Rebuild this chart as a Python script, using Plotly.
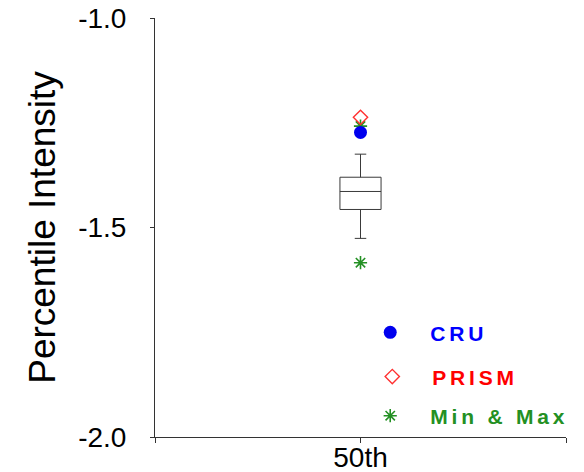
import plotly.graph_objects as go

# Data
category = ["50th"]
box_q1 = [-1.457]
box_median = [-1.414]
box_q3 = [-1.380]
box_lower = [-1.526]
box_upper = [-1.325]
cru_values = [-1.273]
prism_values = [-1.237]
minmax_values = [-1.258, -1.584]
y_ticks = [-2.0, -1.5, -1.0]
y_tick_labels = ["-2.0", "-1.5", "-1.0"]

xpos = [1]
LS = "letter-spacing:3.8px;"
LEG_FONT = dict(size=21, family="Liberation Sans, Arial, sans-serif")

fig = go.Figure()

fig.add_trace(go.Box(
    x=xpos, q1=box_q1, median=box_median, q3=box_q3,
    lowerfence=box_lower, upperfence=box_upper,
    width=0.2, whiskerwidth=0.28,
    fillcolor="white", line=dict(color="#3a3a3a", width=1),
    showlegend=False, hoverinfo="skip",
))

fig.add_trace(go.Scatter(
    x=xpos * len(minmax_values), y=minmax_values, mode="markers",
    name="<b><span style='color:#239023;" + LS + "'>Min &amp; Max</span></b>",
    marker=dict(symbol="asterisk-open", size=11, color="#239023",
                line=dict(color="#239023", width=1.6)),
    legend="legend3",
))
fig.add_trace(go.Scatter(
    x=xpos, y=prism_values, mode="markers",
    name="<b><span style='color:#ff0000;" + LS + "'>PRISM</span></b>",
    marker=dict(symbol="diamond-open", size=11, color="#ff3030",
                line=dict(color="#ff3030", width=1.4)),
    legend="legend2",
))
fig.add_trace(go.Scatter(
    x=xpos, y=cru_values, mode="markers",
    name="<b><span style='color:#0000ff;" + LS + "'>CRU</span></b>",
    marker=dict(symbol="circle", size=13, color="#0000ee"),
    legend="legend",
))

leg_common = dict(xanchor="left", yanchor="middle", bgcolor="rgba(0,0,0,0)",
                  font=LEG_FONT, itemwidth=70)

fig.update_layout(
    width=584, height=472,
    margin=dict(l=155, r=10, t=18, b=35),
    paper_bgcolor="white", plot_bgcolor="white",
    font=dict(family="Liberation Sans, Arial, sans-serif", color="black"),
    showlegend=True,
    legend=dict(x=0.475, y=0.249, **leg_common),
    legend2=dict(x=0.48, y=0.1435, **leg_common),
    legend3=dict(x=0.475, y=0.050, **leg_common),
    xaxis=dict(range=[0, 2], tickvals=[0, 1, 2], ticktext=["", category[0], ""],
               showline=True, linecolor="#333333", linewidth=1,
               ticks="outside", ticklen=5, tickcolor="#333333",
               ticklabelstandoff=-10, ticklabeloverflow="allow",
               showgrid=False, zeroline=False, tickfont=dict(size=28),
               automargin=False),
    yaxis=dict(range=[-2.0, -1.0], tickvals=y_ticks, ticktext=y_tick_labels,
               showline=True, linecolor="#333333", linewidth=1,
               ticks="outside", ticklen=4, tickcolor="#333333",
               ticklabelstandoff=18, ticklabeloverflow="allow",
               showgrid=False, zeroline=False, tickfont=dict(size=28),
               automargin=False,
               title=dict(text="Percentile Intensity", font=dict(size=37), standoff=11)),
)

# remove the page's default 8px body margin so the figure sits at the window corner
fig.write_html("out.html", config={"displayModeBar": False},
               post_script="document.body.style.margin='0';")
